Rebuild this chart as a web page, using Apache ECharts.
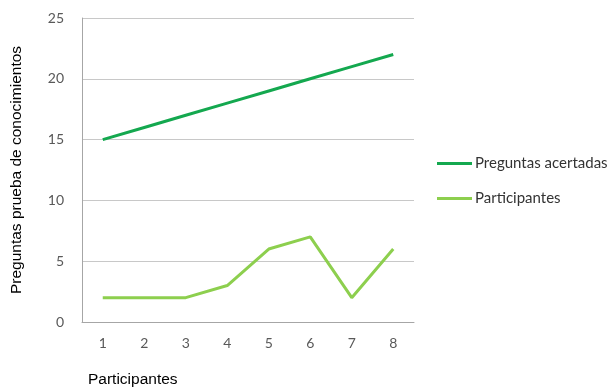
<!DOCTYPE html>
<html><head><meta charset="utf-8">
<script src="https://cdn.jsdelivr.net/npm/echarts@6/dist/echarts.min.js"></script>
<style>html,body{margin:0;padding:0;background:#fff}#c{width:611px;height:389px}</style>
</head><body><div id="c"></div>
<script>
const categories = ['1','2','3','4','5','6','7','8'];
const preguntasAcertadas = [15,16,17,18,19,20,21,22];
const participantes = [2,2,2,3,6,7,2,6];
const seriesNames = ['Preguntas acertadas','Participantes'];
const yTitle = 'Preguntas prueba de conocimientos';
const xTitle = 'Participantes';

const chart = echarts.init(document.getElementById('c'));
const tickFont = {color:'#595959', fontFamily:'Lato', fontSize:14};
chart.setOption({
  animation:false,
  title:{text:xTitle, left:88, top:372, padding:0, textStyle:{fontFamily:'Liberation Sans', fontSize:15.5, fontWeight:'normal', color:'#000'}},
  legend:{orient:'vertical', left:437, top:156, padding:0, itemWidth:35, itemHeight:3, itemGap:20,
    icon:'rect', textStyle:{fontFamily:'Lato', fontSize:15, color:'#333', padding:[0,0,0,-2]},
    data:seriesNames},
  grid:{left:82, right:197, top:18, bottom:67},
  xAxis:{type:'category', data:categories, boundaryGap:true,
    axisLine:{lineStyle:{color:'#a6a6a6'}}, axisTick:{show:false},
    axisLabel:Object.assign({margin:14}, tickFont)},
  yAxis:{type:'value', min:0, max:25, interval:5,
    name:yTitle, nameLocation:'middle', nameGap:57, nameRotate:90,
    nameTextStyle:{fontFamily:'Liberation Sans', fontSize:15.5, color:'#000'},
    axisLine:{show:true, lineStyle:{color:'#a6a6a6'}}, axisTick:{show:false},
    splitLine:{lineStyle:{color:'#c8c8c8'}},
    axisLabel:Object.assign({margin:18}, tickFont)},
  series:[
    {name:seriesNames[0], type:'line', data:preguntasAcertadas, showSymbol:false, symbol:'none',
      lineStyle:{width:3, color:'#14a84f'}, itemStyle:{color:'#14a84f'}},
    {name:seriesNames[1], type:'line', data:participantes, showSymbol:false, symbol:'none',
      lineStyle:{width:3, color:'#8dcf4e'}, itemStyle:{color:'#8dcf4e'}}
  ]
});
</script></body></html>
